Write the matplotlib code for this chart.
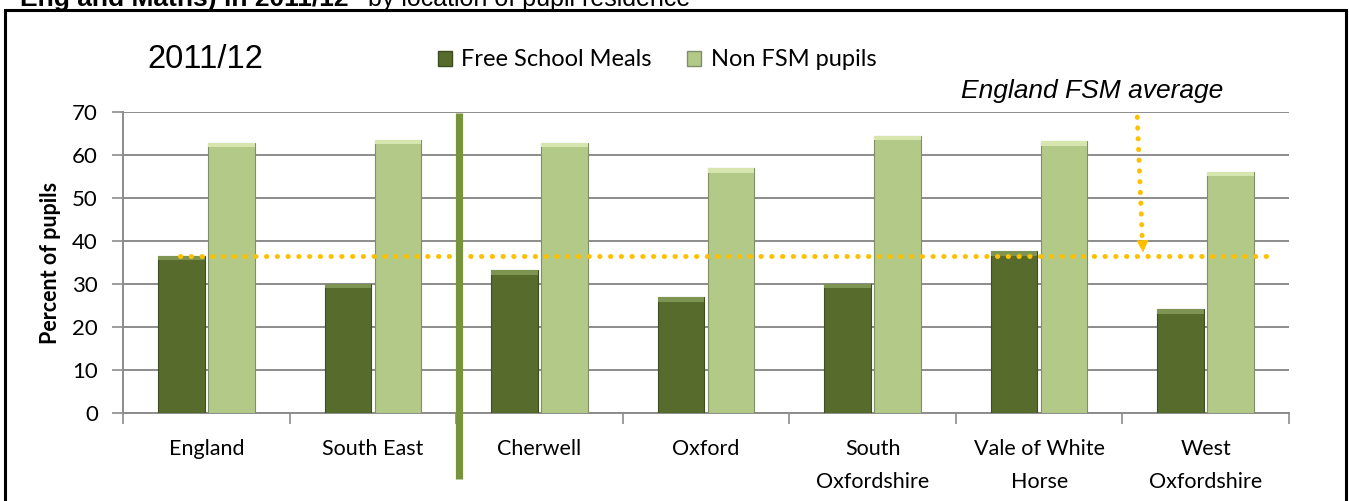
import numpy as np
import matplotlib
matplotlib.use("Agg")
import matplotlib.pyplot as plt
from matplotlib.patches import Patch, Rectangle

# data
categories = ["England", "South East", "Cherwell", "Oxford",
              "South\nOxfordshire", "Vale of White\nHorse", "West\nOxfordshire"]
fsm = [36.5, 30.1, 33.2, 26.9, 30.0, 37.6, 24.1]
non_fsm = [62.8, 63.5, 62.8, 56.9, 64.5, 63.2, 56.1]
england_fsm_avg = 36.4
yticks = [0, 10, 20, 30, 40, 50, 60, 70]

FSM_COL = "#566B2C"
FSM_TOP = "#7E9452"
NON_COL = "#B3C988"
NON_TOP = "#D6E6AE"
GOLD = "#FFC000"
SEP_COL = "#77933C"
GRID = "#8C8C8C"

plt.rcParams["font.family"] = ["Lato", "DejaVu Sans"]
ARIAL = ["Liberation Sans", "DejaVu Sans"]

fig = plt.figure(figsize=(13.49, 5.01), dpi=100)
ax = fig.add_axes([123 / 1349, 1 - 413 / 501, (1289 - 123) / 1349, (413 - 112) / 501])

x = np.arange(len(categories))
w = 0.28
off = 0.15

ax.bar(x - off, fsm, w, color=FSM_COL, edgecolor="#3E4D1F", linewidth=0.8, zorder=3)
ax.bar(x + off, non_fsm, w, color=NON_COL, edgecolor="#7F8F66", linewidth=0.8, zorder=3)
# lighter bevel strip on top of each bar
bevel = 1.0
ax.bar(x - off, [bevel] * len(x), w, bottom=np.array(fsm) - bevel, color=FSM_TOP,
       linewidth=0, zorder=4)
ax.bar(x + off, [bevel] * len(x), w, bottom=np.array(non_fsm) - bevel, color=NON_TOP,
       linewidth=0, zorder=4)

# England FSM average dotted line
ax.plot([-0.16, 6.41], [england_fsm_avg, england_fsm_avg], color=GOLD, lw=3.6,
        linestyle=(0, (0.05, 2.1)), dash_capstyle="round", zorder=5)

# dotted pointer from the label down to the line
ax.plot([5.589, 5.62], [68.8, 39.5], color=GOLD, lw=3.6,
        linestyle=(0, (0.05, 2.1)), dash_capstyle="round", zorder=5, clip_on=False)
ax.annotate("", xy=(5.625, england_fsm_avg + 0.3), xytext=(5.62, 40.5),
            arrowprops=dict(arrowstyle="-|>", color=GOLD, lw=0, mutation_scale=22),
            zorder=6)
fig.text(1092 / 1349, 1 - 91 / 501, "England FSM average", ha="center", va="center",
         fontsize=19, style="italic", family=ARIAL)

# separator between regional and district figures
ax.plot([1.519, 1.519], [69.8, -15.4], color=SEP_COL, lw=5.2, solid_capstyle="butt",
        zorder=6, clip_on=False)

ax.set_xlim(-0.5, len(categories) - 0.5)
ax.set_ylim(0, 70)
ax.set_yticks(yticks)
ax.set_yticklabels([str(v) for v in yticks], fontsize=16)
ax.set_xticks(x)
ax.set_xticklabels(categories, fontsize=15.5, linespacing=1.8, va="top")
ax.set_xticks(np.arange(-0.5, len(categories)), minor=True)
ax.tick_params(axis="x", which="major", length=0, pad=19)
ax.tick_params(axis="x", which="minor", length=8, color=GRID, width=1.2)
ax.tick_params(axis="y", length=8, color=GRID, width=1.2, pad=10)
ax.yaxis.grid(True, color=GRID, lw=1.4, zorder=0)
ax.set_axisbelow(True)
for s in ["top", "right"]:
    ax.spines[s].set_visible(False)
for s in ["left", "bottom"]:
    ax.spines[s].set_color(GRID)
    ax.spines[s].set_linewidth(1.4)

ax.set_ylabel("Percent of pupils", fontsize=15.5, fontweight="bold", labelpad=8)

# legend and year label
handles = [Patch(facecolor=FSM_COL, edgecolor="#3E4D1F", label="Free School Meals"),
           Patch(facecolor=NON_COL, edgecolor="#7F8F66", label="Non FSM pupils")]
fig.legend(handles=handles, loc="center", bbox_to_anchor=(657 / 1349, 1 - 60 / 501),
           ncol=2, frameon=False, fontsize=17, handlelength=0.6, handleheight=0.6,
           handletextpad=0.4, columnspacing=1.5)
fig.text(147 / 1349, 1 - 60 / 501, "2011/12", ha="left", va="center", fontsize=23.5,
         family=ARIAL)

# outer frame and cut-off title above it
fig.patches.append(Rectangle((5 / 1349, -0.1), (1346 - 5) / 1349, 1.1 - 10 / 501,
                             transform=fig.transFigure, fill=False, lw=2.2,
                             edgecolor="black"))
fig.text(20 / 1349, 1 - 6 / 501, "Eng and Maths) in 2011/12", ha="left",
         va="baseline", fontsize=19, fontweight="bold", family=ARIAL)
fig.text(368 / 1349, 1 - 6 / 501, "by location of pupil residence", ha="left",
         va="baseline", fontsize=18, family=ARIAL)

fig.savefig("out.png", dpi=100)
